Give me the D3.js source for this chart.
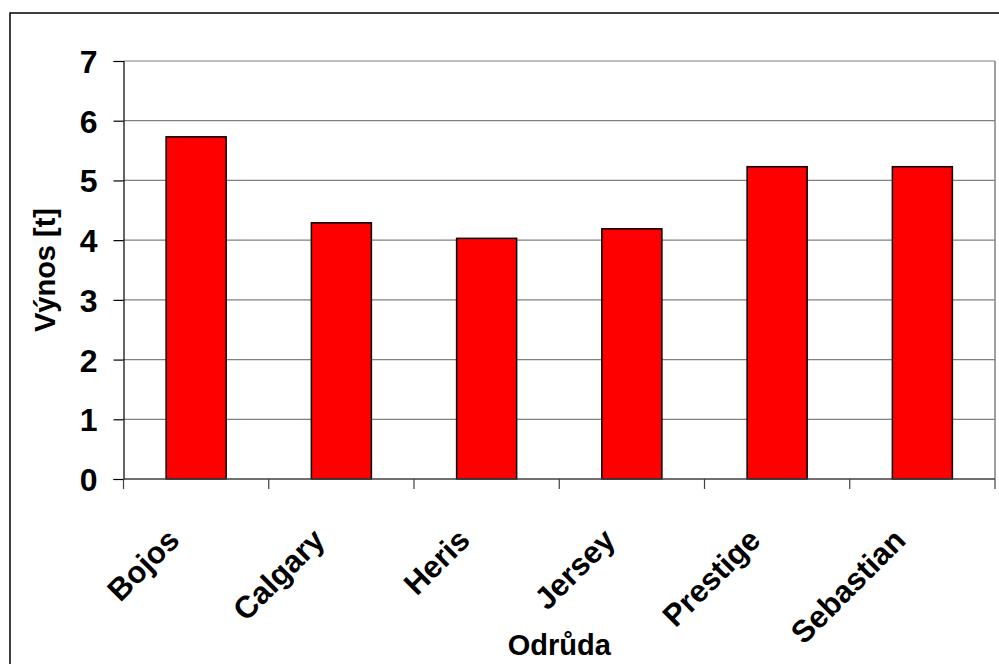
<!DOCTYPE html>
<html>
<head>
<meta charset="utf-8">
<script src="https://cdn.jsdelivr.net/npm/d3@7"></script>
<style>
  html, body { margin: 0; padding: 0; background: #fff; }
  svg { display: block; font-family: Arial, "Liberation Sans", sans-serif; }
</style>
</head>
<body>
<svg id="chart" width="999" height="664"></svg>
<script>
// Yield per variety
const varieties = ["Bojos", "Calgary", "Heris", "Jersey", "Prestige", "Sebastian"];
const yields = [5.73, 4.29, 4.03, 4.19, 5.23, 5.23];
const yTicks = [0, 1, 2, 3, 4, 5, 6, 7];
const yTitle = "Výnos [t]";
const xTitle = "Odrůda";

const svg = d3.select("#chart");
const plot = { left: 123.5, right: 995, top: 61, bottom: 479 };

// Outer frame (extends past the right and bottom edges)
svg.append("rect")
  .attr("x", 10).attr("y", 13)
  .attr("width", 1000).attr("height", 700)
  .attr("fill", "none").attr("stroke", "#000").attr("stroke-width", 1.5);

const x = d3.scaleBand().domain(varieties).range([plot.left, plot.right]).paddingInner(0).paddingOuter(0);
const y = d3.scaleLinear().domain([0, 7]).range([plot.bottom, plot.top]);

// Horizontal gridlines
svg.append("g").selectAll("line").data(yTicks.slice(1)).join("line")
  .attr("x1", plot.left).attr("x2", plot.right)
  .attr("y1", d => y(d)).attr("y2", d => y(d))
  .attr("stroke", "#808080").attr("stroke-width", 1.2);

// Right edge of the plot area
svg.append("line")
  .attr("x1", plot.right).attr("x2", plot.right)
  .attr("y1", plot.top).attr("y2", plot.bottom)
  .attr("stroke", "#808080").attr("stroke-width", 1.5);

// Bars
const barW = x.bandwidth() / 2.42;
svg.append("g").selectAll("rect").data(varieties).join("rect")
  .attr("x", (d) => x(d) + x.bandwidth() / 2 - barW / 2)
  .attr("width", barW)
  .attr("y", (d, i) => y(yields[i]))
  .attr("height", (d, i) => y(0) - y(yields[i]))
  .attr("fill", "#ff0000").attr("stroke", "#000").attr("stroke-width", 1.5);

// Y axis
const yAxis = d3.axisLeft(y).tickValues(yTicks).tickSize(10).tickFormat(d3.format("d")).tickPadding(16);
const gy = svg.append("g").attr("transform", `translate(${plot.left},0)`).call(yAxis);
gy.select(".domain").attr("stroke", "#000").attr("stroke-width", 1.2);
gy.selectAll(".tick line").attr("stroke", "#000").attr("stroke-width", 1.2);
gy.selectAll(".tick text").attr("fill", "#000").style("font-size", "32px").style("font-weight", "bold")
  .attr("dy", "0.36em");

// X axis: ticks between categories
const xAxisLine = svg.append("g");
xAxisLine.append("line")
  .attr("x1", plot.left).attr("x2", plot.right)
  .attr("y1", plot.bottom).attr("y2", plot.bottom)
  .attr("stroke", "#404040").attr("stroke-width", 1.5);
const boundaries = varieties.map(d => x(d)).concat([plot.right]);
xAxisLine.selectAll("line.tk").data(boundaries).join("line").attr("class", "tk")
  .attr("x1", d => d).attr("x2", d => d)
  .attr("y1", plot.bottom).attr("y2", plot.bottom + 10)
  .attr("stroke", "#404040").attr("stroke-width", 1.2);

// Rotated category labels
svg.append("g").selectAll("text").data(varieties).join("text")
  .attr("transform", d => `translate(${x(d) + x.bandwidth() / 2 - 15},542) rotate(-45)`)
  .attr("text-anchor", "end")
  .style("font-size", "31px").style("font-weight", "bold")
  .text(d => d);

// Axis titles
svg.append("text")
  .attr("transform", `translate(55,${(plot.top + plot.bottom) / 2}) rotate(-90)`)
  .attr("text-anchor", "middle")
  .style("font-size", "29px").style("font-weight", "bold")
  .text(yTitle);

svg.append("text")
  .attr("x", (plot.left + plot.right) / 2).attr("y", 655)
  .attr("text-anchor", "middle")
  .style("font-size", "29px").style("font-weight", "bold")
  .text(xTitle);
</script>
</body>
</html>
